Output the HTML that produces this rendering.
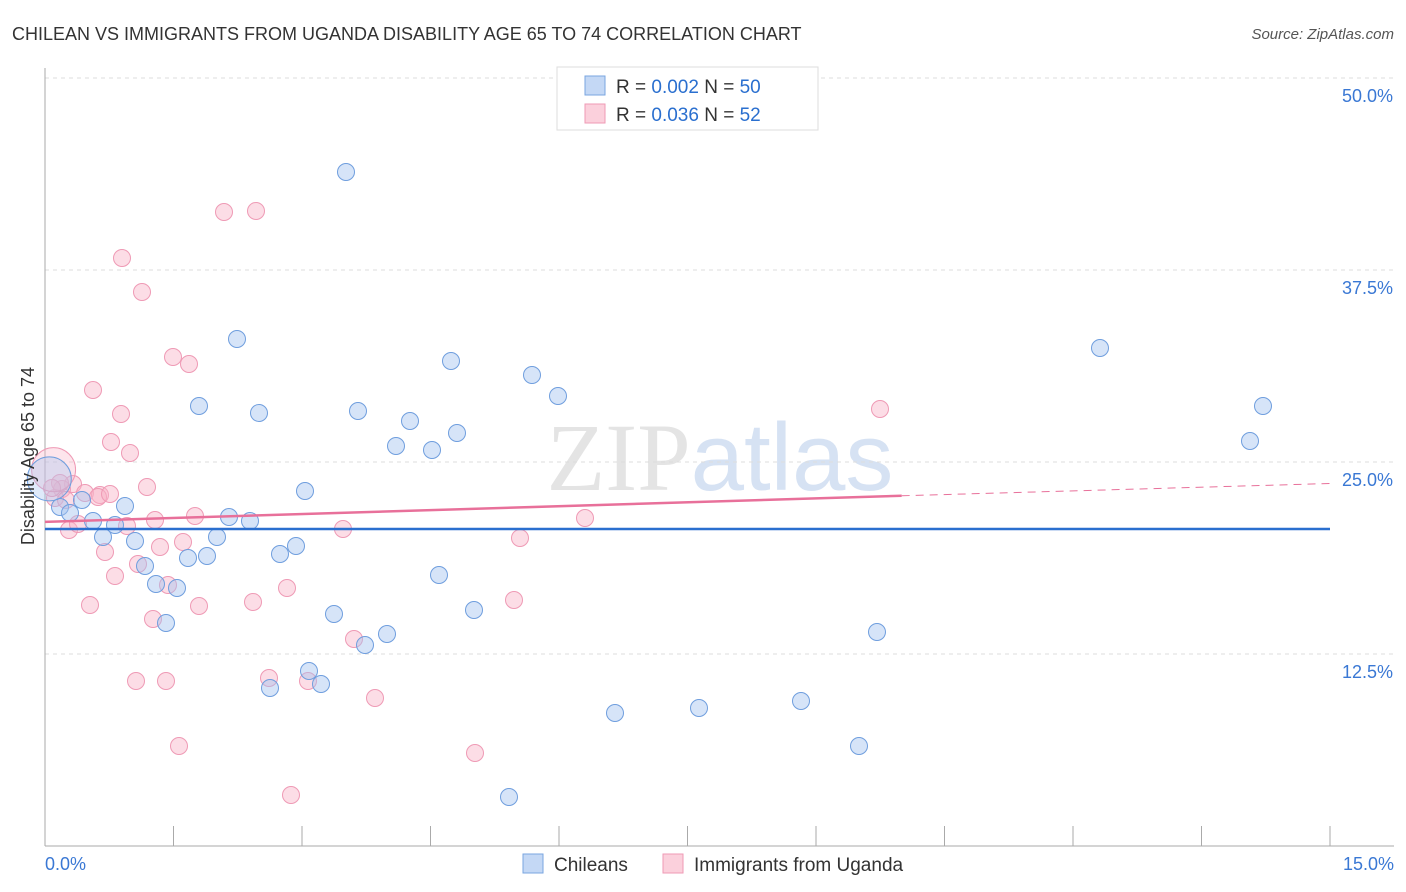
<!DOCTYPE html>
<html><head><meta charset="utf-8"><style>
body{margin:0;background:#fff;font-family:"Liberation Sans",sans-serif;}
svg{display:block}
</style></head><body>
<svg id="chart" width="1406" height="892" xmlns="http://www.w3.org/2000/svg">
<text x="12" y="40" font-size="18" fill="#333">CHILEAN VS IMMIGRANTS FROM UGANDA DISABILITY AGE 65 TO 74 CORRELATION CHART</text>
<text x="1394" y="39" font-size="15" fill="#555" text-anchor="end" font-style="italic">Source: ZipAtlas.com</text>
<text x="720" y="490" font-size="96" fill="#e4e4e4" text-anchor="middle" font-family="Liberation Serif">ZIP<tspan fill="#d6e2f3" font-family="Liberation Sans">atlas</tspan></text>
<g id="grid"></g><g id="axes"></g><g id="pts"></g><g id="lines"></g>
<text transform="translate(34,456) rotate(-90)" font-size="18" fill="#333" text-anchor="middle">Disability Age 65 to 74</text>
<g>
<rect x="557" y="67" width="261" height="63" fill="#fff" stroke="#ddd"/>
<rect x="585" y="76" width="20" height="19" fill="#c4d8f5" stroke="#7aa6e0"/>
<rect x="585" y="104" width="20" height="19" fill="#fbd0dc" stroke="#ef9ab5"/>
<text x="616" y="93" font-size="19" fill="#333">R = <tspan fill="#2a6fcf">0.002</tspan>   N = <tspan fill="#2a6fcf">50</tspan></text>
<text x="616" y="121" font-size="19" fill="#333">R = <tspan fill="#2a6fcf">0.036</tspan>   N = <tspan fill="#2a6fcf">52</tspan></text>
</g>
<g>
<rect x="523" y="854" width="20" height="19" fill="#c4d8f5" stroke="#7aa6e0"/>
<text x="554" y="871" font-size="19" fill="#333">Chileans</text>
<rect x="663" y="854" width="20" height="19" fill="#fbd0dc" stroke="#ef9ab5"/>
<text x="694" y="871" font-size="19" fill="#333">Immigrants from Uganda</text>
</g>
</svg>
<script>
const blueX=[346,237,451,532,558,199,259,358,410,457,396,432,1100,1263,1250,305,125,60,70,93,115,229,250,103,135,217,296,280,207,188,145,156,177,439,334,474,166,387,365,877,309,270,321,615,699,801,859,509,82].map(p=>(p-45)/1285*15);
const blueY=[172,339,361,375,396,406,413,411,421,433,446,450,348,406,441,491,506,507,513,521,525,517,521,537,541,537,546,554,556,558,566,584,588,575,614,610,623,634,645,632,671,688,684,713,708,701,746,797,500].map(p=>(846-p)/192*12.5);
const pinkX=[224,256,122,142,173,189,93,121,111,130,880,147,73,85,100,62,55,195,155,127,69,78,343,585,520,105,183,160,138,115,168,287,90,199,253,514,153,354,269,308,136,166,375,179,475,291,60,98,66,52,110].map(p=>(p-45)/1285*15);
const pinkY=[212,211,258,292,357,364,390,414,442,453,409,487,484,493,495,489,498,516,520,526,530,524,529,518,538,552,542,547,564,576,585,588,605,606,602,600,619,639,678,681,681,681,698,746,753,795,483,497,500,488,494].map(p=>(846-p)/192*12.5);
const yTicks=[12.5,25,37.5,50];
const blueLine=[20.64,20.64];
const pinkLine=[21.1,22.8,23.6];
const X=v=>45+v/15*1285, Y=v=>846-v/12.5*192;
const NS="http://www.w3.org/2000/svg";
function mk(par,tag,a){const e=document.createElementNS(NS,tag);for(const k in a)e.setAttribute(k,a[k]);document.getElementById(par).appendChild(e);return e;}
yTicks.forEach(t=>{
 const l=mk('grid','line',{x1:45,x2:1394,y1:Y(t),y2:Y(t),stroke:'#ddd','stroke-dasharray':'4,4'});
 
 
 const tx=mk('grid','text',{x:1393,y:Y(t)+24,'font-size':18,fill:'#3a78d4','text-anchor':'end'});
 tx.textContent=t.toFixed(1)+'%';
 
 
});
mk('axes','line',{x1:45,x2:45,y1:68,y2:846,stroke:'#aaa'});
mk('axes','line',{x1:45,x2:1394,y1:846,y2:846,stroke:'#aaa'});
for(let i=0;i<=10;i++){const t=mk('axes','line',{x1:X(i*1.5),x2:X(i*1.5),y1:826,y2:846,stroke:'#aaa'});
 
 }
const xl=mk('axes','text',{x:45,y:870,'font-size':18,fill:'#3a78d4'});xl.textContent='0.0%';


const xr=mk('axes','text',{x:1394,y:870,'font-size':18,fill:'#3a78d4','text-anchor':'end'});xr.textContent='15.0%';


function dots(xs,ys,fill,stroke,name){xs.forEach((x,i)=>{const c=mk('pts','circle',{cx:X(x),cy:Y(ys[i]),r:8.5,fill:fill,stroke:stroke,'stroke-width':1});
 
 });}
dots(pinkX,pinkY,'rgba(248,180,200,0.45)','#ef9ab5','uganda-point');
dots(blueX,blueY,'rgba(164,196,240,0.45)','#6f9ede','chilean-point');
const big1=mk('pts','circle',{cx:X(0.1),cy:Y(24.5),r:22,fill:'rgba(248,180,200,0.35)',stroke:'#ef9ab5'});


const big2=mk('pts','circle',{cx:X(0.05),cy:Y(23.9),r:22,fill:'rgba(164,196,240,0.35)',stroke:'#6f9ede'});


const bl=mk('lines','line',{x1:X(0),x2:X(15),y1:Y(blueLine[0]),y2:Y(blueLine[1]),stroke:'#2a6fcf','stroke-width':2.5});


const pl=mk('lines','line',{x1:X(0),x2:X(10),y1:Y(pinkLine[0]),y2:Y(pinkLine[1]),stroke:'#e8709a','stroke-width':2.5});


const pd=mk('lines','line',{x1:X(10),x2:X(15),y1:Y(pinkLine[1]),y2:Y(pinkLine[2]),stroke:'#e8709a','stroke-width':1,'stroke-dasharray':'8,6'});


</script>
</body></html>
